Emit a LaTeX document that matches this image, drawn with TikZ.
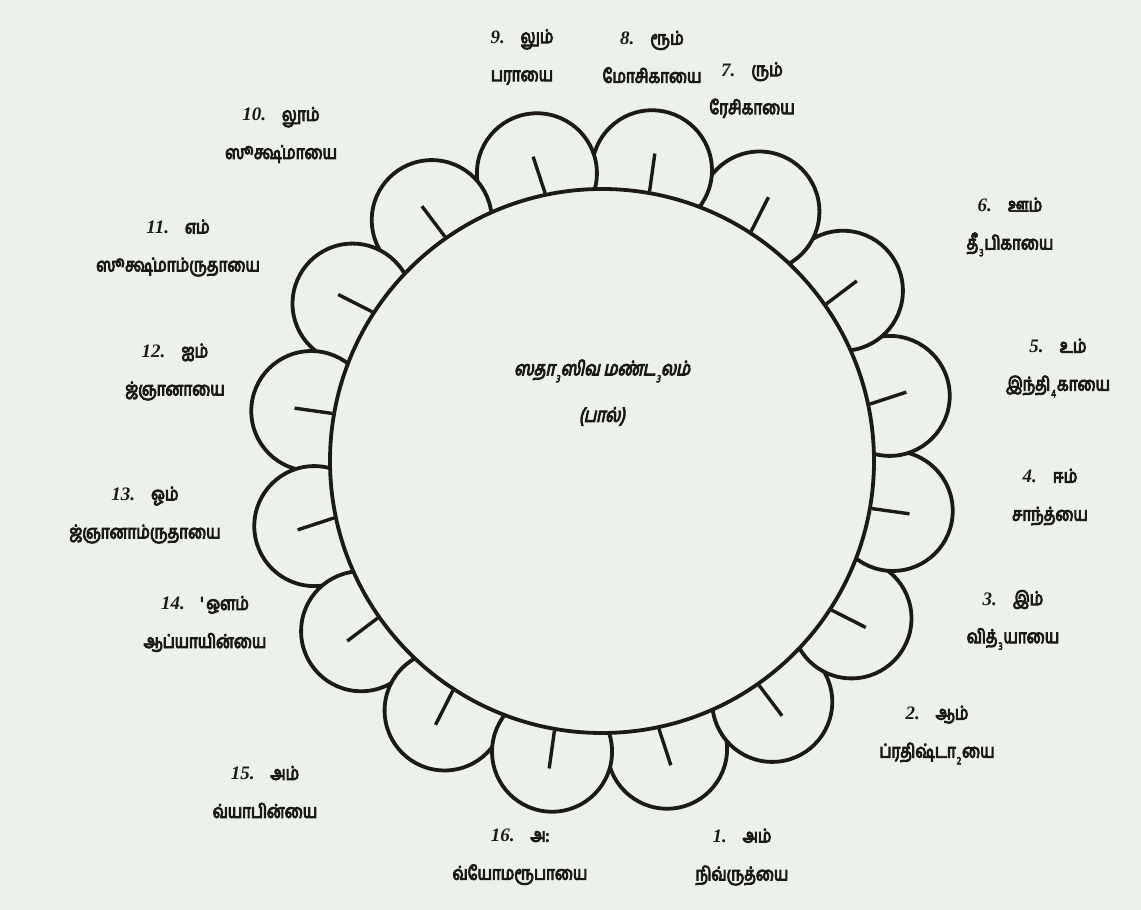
\documentclass[tikz,border=0pt]{standalone}
\usepackage{fontspec}
\setmainfont{Liberation Serif}
\newfontfamily\tamilfont[Script=Tamil,FakeStretch=0.8,FakeBold=5]{Hind Madurai}
\newfontfamily\tamilslant[Script=Tamil,FakeStretch=0.78,FakeSlant=0.2,FakeBold=5]{Hind Madurai}
\usetikzlibrary{positioning,calc}
\definecolor{paper}{RGB}{237,241,236}
\definecolor{ink}{RGB}{28,26,24}
\newcommand{\gsub}[1]{\kern0.5pt\raisebox{-0.7ex}{\fontsize{5.5}{6}\selectfont #1}\kern0.5pt}
\newcommand{\kno}[1]{{\rmfamily\bfseries\itshape #1}\hspace{8pt}}
\tikzset{
  petal/.style   = {circle, draw=ink, fill=paper, line width=1.9pt, minimum size=60pt, inner sep=0pt},
  mandala/.style = {circle, draw=ink, fill=paper, line width=1.9pt, minimum size=272pt, inner sep=0pt},
  tick/.style    = {draw=ink, line width=1.7pt},
  kala/.style    = {font=\tamilfont\fontsize{9.5}{19}\selectfont, align=center, text=ink, inner sep=0pt},
  title/.style   = {font=\tamilslant\fontsize{10}{12}\selectfont, text=ink, inner sep=0pt},
}

\begin{document}
\begin{tikzpicture}[x=0.5pt, y=0.5pt]
  \fill[paper] (0,0) rectangle (1141,910);
  \useasboundingbox (0,0) rectangle (1141,910);
  \coordinate (c) at (602,449);
  % sixteen petals round the mandala
  \foreach \k in {1,...,16} {
    \pgfmathsetmacro\ang{282.75+(\k-1)*22.5}
    \node[petal] (p\k) at ($(c)+(\ang:295)$) {};
  }
  \node[mandala] (m) at (c) {};
  \foreach \k in {1,...,16} {
    \pgfmathsetmacro\ang{282.75+(\k-1)*22.5}
    \coordinate (t\k) at ($(c)+(\ang:312)$);
    \draw[tick] (m.\ang) -- (t\k);
  }
  % centre text
  \node[title] (name) at ($(c)+(0,90)$) {ஸதா\gsub{3}ஸிவ மண்ட\gsub{3}லம்};
  \node[title, below=12pt of name] (milk) {(பால்)};
  % kala names
  \node[kala] (l1)  at (742,53)  {\kno{1.}அம்\\நிவ்ருத்யை};
  \node[kala] (l2)  at (937,175) {\kno{2.}ஆம்\\ப்ரதிஷ்டா\gsub{2}யை};
  \node[kala] (l3)  at (1013,290) {\kno{3.}இம்\\வித்\gsub{3}யாயை};
  \node[kala] (l4)  at (1050,413) {\kno{4.}ஈம்\\சாந்த்யை};
  \node[kala] (l5)  at (1058,542) {\kno{5.}உம்\\இந்தி\gsub{4}காயை};
  \node[kala] (l6)  at (1010,683) {\kno{6.}ஊம்\\தீ\gsub{3}பிகாயை};
  \node[kala] (l7)  at (752,820) {\kno{7.}ரும்\\ரேசிகாயை};
  \node[kala] (l8)  at (652,853) {\kno{8.}ரூம்\\மோசிகாயை};
  \node[kala] (l9)  at (522,853) {\kno{9.}லும்\\பராயை};
  \node[kala] (l10) at (281,775) {\kno{10.}லூம்\\ஸூக்ஷ்மாயை};
  \node[kala] (l11) at (178,662) {\kno{11.}எம்\\ஸூக்ஷ்மாம்ருதாயை};
  \node[kala] (l12) at (175,538) {\kno{12.}ஐம்\\ஜ்ஞானாயை};
  \node[kala] (l13) at (145,395) {\kno{13.}ஓம்\\ஜ்ஞானாம்ருதாயை};
  \node[kala] (l14) at (205,286) {\kno{14.}'\,ஔம்\\ஆப்யாயின்யை};
  \node[kala] (l15) at (265,118) {\kno{15.}அம்\\வ்யாபின்யை};
  \node[kala] (l16) at (520,53)  {\kno{16.}அ:\\வ்யோமரூபாயை};
\end{tikzpicture}
\end{document}
